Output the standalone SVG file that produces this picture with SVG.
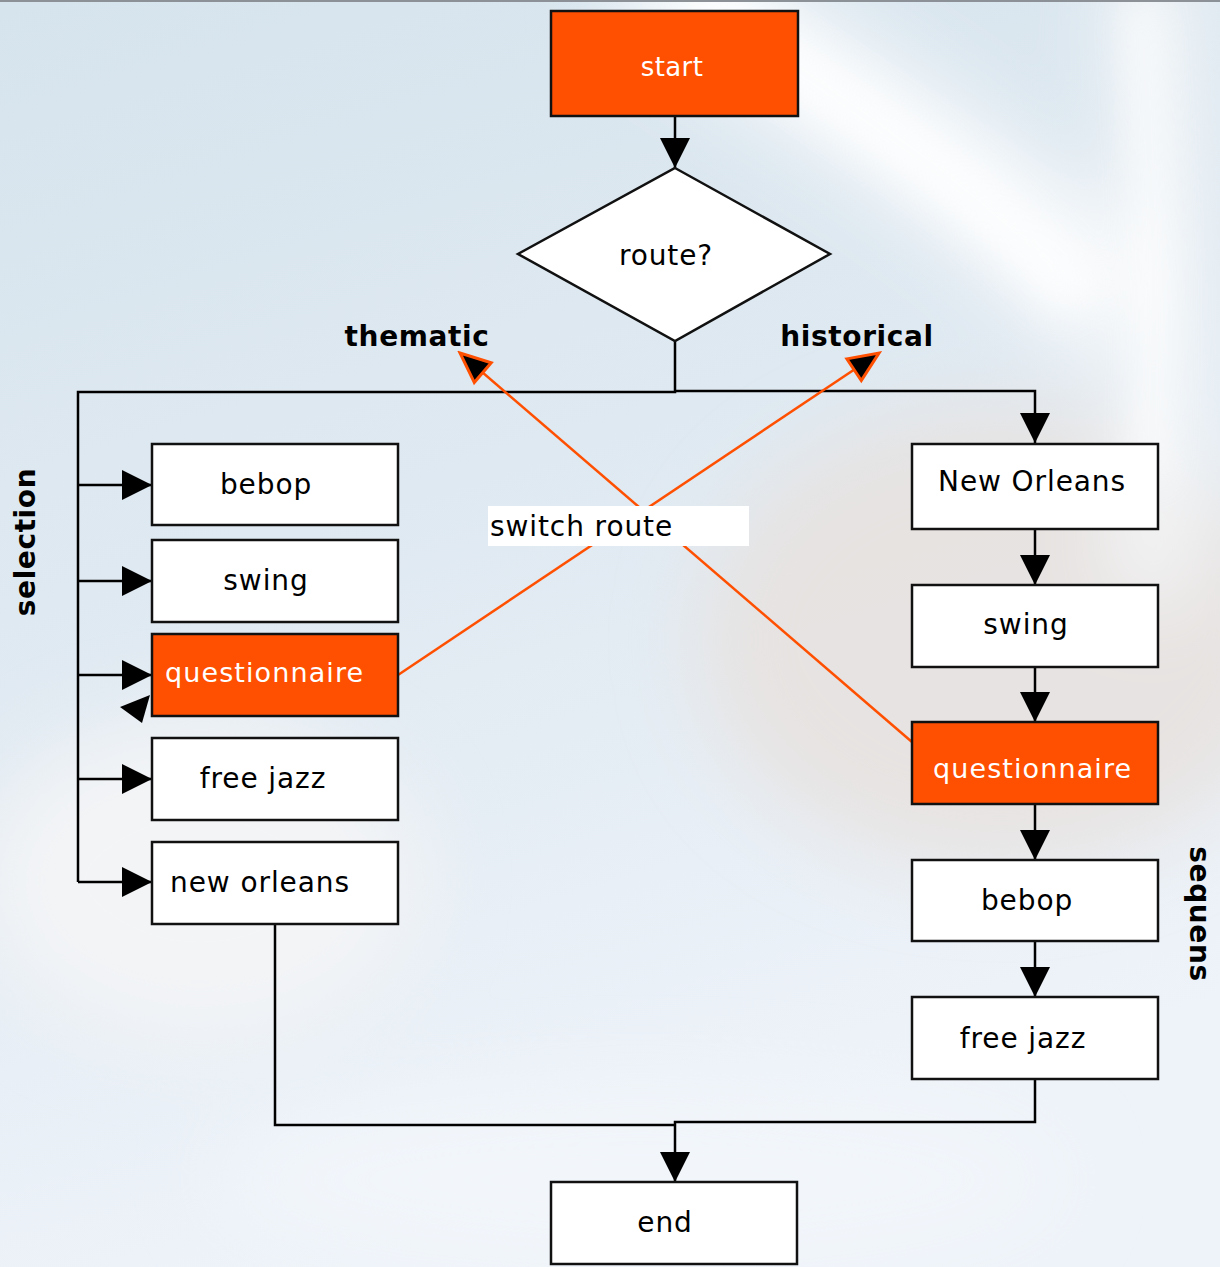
<svg xmlns="http://www.w3.org/2000/svg" width="1220" height="1267" viewBox="0 0 1220 1267">
  <defs>
    <linearGradient id="bgBase" x1="0" y1="0" x2="0.3" y2="1">
      <stop offset="0" stop-color="#d6e4ed"/>
      <stop offset="0.45" stop-color="#dfe9f1"/>
      <stop offset="1" stop-color="#eef3f9"/>
    </linearGradient>
    <filter id="soft" x="-30%" y="-30%" width="160%" height="160%">
      <feGaussianBlur stdDeviation="40"/>
    </filter>
    <filter id="softer" x="-30%" y="-30%" width="160%" height="160%">
      <feGaussianBlur stdDeviation="18"/>
    </filter>
    <marker id="arr" viewBox="0 0 30 30" refX="30" refY="15" markerWidth="30" markerHeight="30" markerUnits="userSpaceOnUse" orient="auto">
      <path d="M0,0 L30,15 L0,30 z" fill="#000"/>
    </marker>
    <marker id="arrSwitch" viewBox="-3 -3 36 32" refX="30" refY="13" markerWidth="36" markerHeight="32" markerUnits="userSpaceOnUse" orient="auto">
      <path d="M0,0 L30,13 L0,26 z" fill="#000" stroke="#ff4f00" stroke-width="3" stroke-linejoin="miter"/>
    </marker>
    <style>
      .box { fill: #fff; stroke: #111; stroke-width: 2.5; }
      .hot { fill: #ff4f00; stroke: #111; stroke-width: 2.5; }
      .lbl { font-family: "DejaVu Sans", Verdana, sans-serif; font-size: 28px; letter-spacing: 0.9px; fill: #000; }
      .lblw { font-family: "DejaVu Sans", Verdana, sans-serif; font-size: 27px; letter-spacing: 1.1px; fill: #fff; }
      .side { font-family: "DejaVu Sans", Verdana, sans-serif; font-size: 28px; font-weight: bold; letter-spacing: 0.6px; fill: #000; }
      .wire { fill: none; stroke: #000; stroke-width: 2.5; }
      .switch { fill: none; stroke: #ff4f00; stroke-width: 2.5; }
    </style>
  </defs>

  <!-- soft photographic backdrop -->
  <g id="backdrop">
    <rect x="0" y="0" width="1220" height="1267" fill="url(#bgBase)"/>
    <g filter="url(#soft)">
      <ellipse cx="1000" cy="640" rx="300" ry="230" fill="#e8e2de" opacity="0.85"/>
      <ellipse cx="200" cy="880" rx="220" ry="160" fill="#f3f4f6"/>
      <ellipse cx="640" cy="1180" rx="420" ry="90" fill="#f2f6fb"/>
      <path d="M640,-40 C760,60 980,160 1120,320" stroke="#fbfcfd" stroke-width="110" fill="none"/>
      <path d="M1150,-40 C1160,160 1170,380 1150,600" stroke="#f6f8f9" stroke-width="70" fill="none"/>
    </g>
    <g filter="url(#softer)" opacity="0.7">
      <path d="M700,0 C820,90 960,170 1080,300" stroke="#ffffff" stroke-width="50" fill="none"/>
      <path d="M1140,0 C1150,150 1160,300 1150,480" stroke="#ffffff" stroke-width="30" fill="none"/>
    </g>
    <rect x="0" y="0" width="1220" height="2" fill="#8c9197"/>
  </g>

  <!-- connectors -->
  <g id="connectors">
    <line class="wire" x1="675" y1="116" x2="675" y2="168" marker-end="url(#arr)"/>
    <polyline class="wire" points="675,341 675,392 78,392 78,882"/>
    <polyline class="wire" points="675,391 1035,391 1035,443" marker-end="url(#arr)"/>
    <line class="wire" x1="78" y1="485" x2="152" y2="485" marker-end="url(#arr)"/>
    <line class="wire" x1="78" y1="581" x2="152" y2="581" marker-end="url(#arr)"/>
    <line class="wire" x1="78" y1="675" x2="152" y2="675" marker-end="url(#arr)"/>
    <line class="wire" x1="78" y1="779" x2="152" y2="779" marker-end="url(#arr)"/>
    <line class="wire" x1="78" y1="882" x2="152" y2="882" marker-end="url(#arr)"/>
    <polygon points="120,707 150,695 142,723" fill="#000"/>
    <line class="wire" x1="1035" y1="529" x2="1035" y2="585" marker-end="url(#arr)"/>
    <line class="wire" x1="1035" y1="667" x2="1035" y2="722" marker-end="url(#arr)"/>
    <line class="wire" x1="1035" y1="804" x2="1035" y2="860" marker-end="url(#arr)"/>
    <line class="wire" x1="1035" y1="941" x2="1035" y2="997" marker-end="url(#arr)"/>
    <polyline class="wire" points="275,924 275,1125 675,1125"/>
    <polyline class="wire" points="1035,1072 1035,1122 675,1122 675,1182" marker-end="url(#arr)"/>
    <line class="switch" x1="398" y1="675" x2="879" y2="353" marker-end="url(#arrSwitch)"/>
    <line class="switch" x1="912" y1="742" x2="460" y2="353" marker-end="url(#arrSwitch)"/>
  </g>

  <!-- route labels -->
  <g id="labels">
    <text class="side" x="417" y="346" text-anchor="middle">thematic</text>
    <text class="side" x="857" y="346" text-anchor="middle">historical</text>
    <text class="side" transform="translate(35,542) rotate(-90)" text-anchor="middle">selection</text>
    <text class="side" transform="translate(1190,914) rotate(90)" text-anchor="middle">sequens</text>
  </g>

  <g id="switch-route">
    <rect x="488" y="506" width="261" height="40" fill="#fff"/>
    <text class="lbl" x="490" y="536">switch route</text>
  </g>

  <g id="start">
    <rect class="hot" x="551" y="11" width="247" height="105"/>
    <text class="lbl" x="672" y="76" text-anchor="middle" style="fill:#fff;font-size:26px;letter-spacing:0.4px">start</text>
  </g>

  <g id="route">
    <polygon points="675,168 830,254 675,341 518,254" fill="#fff" stroke="#111" stroke-width="2.5"/>
    <text class="lbl" x="666" y="265" text-anchor="middle">route?</text>
  </g>

  <!-- thematic selection -->
  <g id="sel-bebop">
    <rect class="box" x="152" y="444" width="246" height="81"/>
    <text class="lbl" x="266" y="494" text-anchor="middle">bebop</text>
  </g>
  <g id="sel-swing">
    <rect class="box" x="152" y="540" width="246" height="82"/>
    <text class="lbl" x="266" y="590" text-anchor="middle">swing</text>
  </g>
  <g id="sel-questionnaire">
    <rect class="hot" x="152" y="634" width="246" height="82"/>
    <text class="lblw" x="165" y="682">questionnaire</text>
  </g>
  <g id="sel-freejazz">
    <rect class="box" x="152" y="738" width="246" height="82"/>
    <text class="lbl" x="263" y="788" text-anchor="middle">free jazz</text>
  </g>
  <g id="sel-neworleans">
    <rect class="box" x="152" y="842" width="246" height="82"/>
    <text class="lbl" x="260" y="892" text-anchor="middle">new orleans</text>
  </g>

  <!-- historical sequence -->
  <g id="seq-neworleans">
    <rect class="box" x="912" y="444" width="246" height="85"/>
    <text class="lbl" x="1032" y="491" text-anchor="middle">New Orleans</text>
  </g>
  <g id="seq-swing">
    <rect class="box" x="912" y="585" width="246" height="82"/>
    <text class="lbl" x="1026" y="634" text-anchor="middle">swing</text>
  </g>
  <g id="seq-questionnaire">
    <rect class="hot" x="912" y="722" width="246" height="82"/>
    <text class="lblw" x="933" y="778">questionnaire</text>
  </g>
  <g id="seq-bebop">
    <rect class="box" x="912" y="860" width="246" height="81"/>
    <text class="lbl" x="1027" y="910" text-anchor="middle">bebop</text>
  </g>
  <g id="seq-freejazz">
    <rect class="box" x="912" y="997" width="246" height="82"/>
    <text class="lbl" x="1023" y="1048" text-anchor="middle">free jazz</text>
  </g>

  <g id="end">
    <rect class="box" x="551" y="1182" width="246" height="82"/>
    <text class="lbl" x="665" y="1232" text-anchor="middle">end</text>
  </g>
</svg>
